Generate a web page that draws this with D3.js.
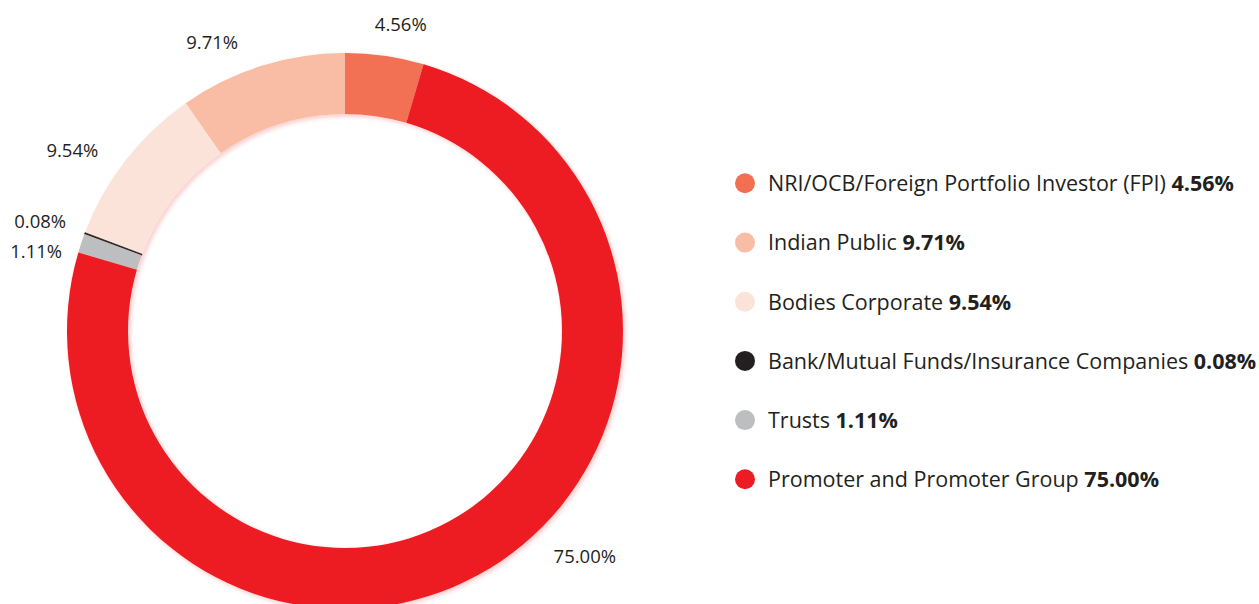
<!DOCTYPE html>
<html>
<head>
<meta charset="utf-8">
<script src="https://cdn.jsdelivr.net/npm/d3@7"></script>
<style>
  html, body { margin: 0; padding: 0; background: #ffffff; }
  svg { display: block; }
  text { font-family: "Open Sans", "Noto Sans", sans-serif; fill: #231f20; }
</style>
</head>
<body>
<svg id="chart" width="1259" height="604"></svg>
<script>
// ---- data (legend order) ----
const categories = [
  "NRI/OCB/Foreign Portfolio Investor (FPI)",
  "Indian Public",
  "Bodies Corporate",
  "Bank/Mutual Funds/Insurance Companies",
  "Trusts",
  "Promoter and Promoter Group"
];
const values = [4.56, 9.71, 9.54, 0.08, 1.11, 75.00];
const valueLabels = ["4.56%", "9.71%", "9.54%", "0.08%", "1.11%", "75.00%"];
const colors = ["#f26f52", "#f9bca4", "#fce3d9", "#231f20", "#bcbec0", "#ed1c24"];
// clockwise order of slices around the ring, starting at 12 o'clock
const ringOrder = [
  "NRI/OCB/Foreign Portfolio Investor (FPI)",
  "Promoter and Promoter Group",
  "Trusts",
  "Bank/Mutual Funds/Insurance Companies",
  "Bodies Corporate",
  "Indian Public"
];

// ---- layout ----
const cx = 345, cy = 331, outerR = 278, innerR = 217;
// label placement (polar, relative to ring centre): angle in degrees clockwise from top, radius px
const labelPolar = {
  "NRI/OCB/Foreign Portfolio Investor (FPI)": [10.3, 312],
  "Indian Public": [-24.7, 318],
  "Bodies Corporate": [-56.5, 327],
  "Bank/Mutual Funds/Insurance Companies": [-70.2, 324],
  "Trusts": [-75.5, 319],
  "Promoter and Promoter Group": [133.2, 329]
};

const rows = categories.map((c, i) => ({ name: c, value: values[i], label: valueLabels[i], color: colors[i] }));
const colorScale = d3.scaleOrdinal().domain(categories).range(colors);

const svg = d3.select("#chart");
const defs = svg.append("defs");
const f = defs.append("filter").attr("id", "glow").attr("x", "-10%").attr("y", "-10%").attr("width", "120%").attr("height", "120%");
f.append("feDropShadow").attr("dx", 2).attr("dy", 2).attr("stdDeviation", 2)
  .attr("flood-color", "#ed1c24").attr("flood-opacity", 0.25);

const pie = d3.pie()
  .value(d => d.value)
  .sort((a, b) => ringOrder.indexOf(a.name) - ringOrder.indexOf(b.name));
const arc = d3.arc().innerRadius(innerR).outerRadius(outerR);

const g = svg.append("g").attr("transform", `translate(${cx},${cy})`);
const arcs = pie(rows);
g.append("g").attr("filter", "url(#glow)")
  .selectAll("path").data(arcs).join("path")
  .attr("d", arc)
  .attr("fill", d => colorScale(d.data.name))
  .attr("stroke", d => d.data.value < 0.5 ? colorScale(d.data.name) : "none")
  .attr("stroke-width", d => d.data.value < 0.5 ? 0.8 : 0);

// slice labels
g.selectAll("text.lbl").data(arcs).join("text")
  .attr("class", "lbl")
  .attr("x", d => Math.sin(labelPolar[d.data.name][0] * Math.PI / 180) * labelPolar[d.data.name][1])
  .attr("y", d => -Math.cos(labelPolar[d.data.name][0] * Math.PI / 180) * labelPolar[d.data.name][1])
  .attr("dy", "0.35em")
  .attr("text-anchor", "middle")
  .style("font-size", "18.5px")
  .text(d => d.data.label);

// legend
const legX = 745, legY0 = 183.3, legStep = 59.2;
const leg = svg.append("g");
const items = leg.selectAll("g").data(rows).join("g")
  .attr("transform", (d, i) => `translate(${legX},${legY0 + i * legStep})`);
items.append("circle").attr("r", 10).attr("fill", d => colorScale(d.name));
const t = items.append("text").attr("x", 23).attr("y", 7.9).style("font-size", "21.5px");
t.append("tspan").text(d => d.name + " ");
t.append("tspan").style("font-weight", "bold").text(d => d.label);
</script>
</body>
</html>
